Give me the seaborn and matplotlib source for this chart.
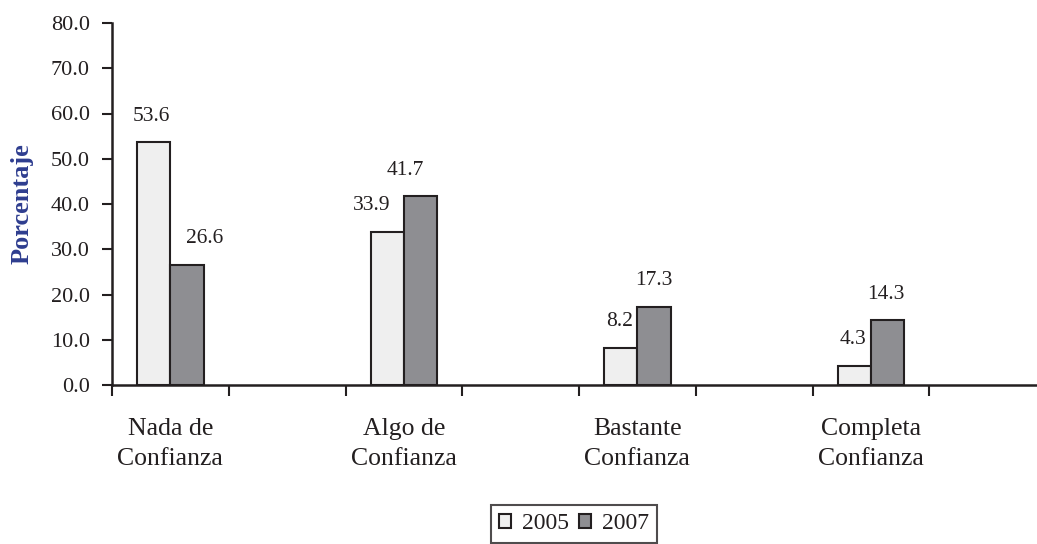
import matplotlib
matplotlib.use("Agg")
import matplotlib.pyplot as plt
from matplotlib.patches import Patch
import seaborn as sns
import pandas as pd
import numpy as np

# ---- data ----
categories = ["Nada de\nConfianza", "Algo de\nConfianza", "Bastante\nConfianza", "Completa\nConfianza"]
years = ["2005", "2007"]
values_2005 = [53.6, 33.9, 8.2, 4.3]
values_2007 = [26.6, 41.7, 17.3, 14.3]
y_ticks = [0, 10, 20, 30, 40, 50, 60, 70, 80]
y_label = "Porcentaje"

# ---- style ----
colors = {"2005": "#efefef", "2007": "#8e8e92"}
ink = "#231f20"
label_dx_px = {"2005": [-2, -16, -1, -1], "2007": [18, -15, 0, -2]}

sns.set_style("ticks")
plt.rcParams["font.family"] = ["Liberation Serif", "DejaVu Serif"]
plt.rcParams["axes.edgecolor"] = ink
plt.rcParams["text.color"] = ink
plt.rcParams["xtick.color"] = ink
plt.rcParams["ytick.color"] = ink

# Category slots: Excel-style layout with an empty slot after each category
order = []
for i, c in enumerate(categories):
    order.append(c)
    order.append("_gap%d" % i)

rows = []
for c, a, b in zip(categories, values_2005, values_2007):
    rows.append({"cat": c, "year": "2005", "val": a})
    rows.append({"cat": c, "year": "2007", "val": b})
df = pd.DataFrame(rows)

fig = plt.figure(figsize=(10.37, 5.44), dpi=100)
W, H = 1037.0, 544.0
ax = fig.add_axes([112 / W, 1 - 385 / H, (1046 - 112) / W, (385 - 23) / H])

sns.barplot(data=df, x="cat", y="val", hue="year", order=order, hue_order=years,
            palette=colors, saturation=1, width=0.57, edgecolor=ink, linewidth=1.5,
            errorbar=None, legend=False, ax=ax)

ax.set_xlim(-0.5, len(order) - 0.5)
ax.set_ylim(0, 80)
ax.set_yticks(y_ticks)
ax.set_yticklabels(["%.1f" % t for t in y_ticks], fontsize=16)
ax.tick_params(axis="y", length=7, width=1.5, pad=9, direction="out")

# major ticks at slot boundaries, labels on minor ticks at category centers
ax.set_xticks(np.arange(-0.5, len(order), 1.0))
ax.set_xticklabels([])
ax.tick_params(axis="x", which="major", length=8, width=1.5, direction="out")
cat_pos = [order.index(c) for c in categories]
ax.set_xticks(cat_pos, minor=True)
ax.set_xticklabels(categories, minor=True, fontsize=18.5, linespacing=1.45)
ax.tick_params(axis="x", which="minor", length=0, pad=24)
ax.set_xlabel("")

for s in ["top", "right"]:
    ax.spines[s].set_visible(False)
for s in ["left", "bottom"]:
    ax.spines[s].set_linewidth(1.8)
    ax.spines[s].set_color(ink)

ax.set_ylabel(y_label, fontsize=19, fontweight="bold", color="#2e3d8f")
ax.yaxis.label.set_verticalalignment("center")
ax.yaxis.set_label_coords((22 - 112) / (1046 - 112), 0.5)

# value labels
for yr, cont in zip(years, ax.containers):
    patches = sorted([p for p in cont.patches if p.get_height() > 0], key=lambda p: p.get_x())
    for p, dx in zip(patches, label_dx_px[yr]):
        xc = p.get_x() + p.get_width() / 2
        h = p.get_height()
        ax.annotate("%.1f" % h, (xc, h), xytext=(dx * 0.72, 26 * 0.72),
                    textcoords="offset points", ha="center", va="center", fontsize=15.5)

handles = [Patch(facecolor=colors[y], edgecolor=ink, linewidth=1.5) for y in years]
leg = fig.legend(handles, years, loc="upper left", bbox_to_anchor=(491 / W, 1 - 505 / H),
                 ncol=2, fontsize=17, frameon=True, fancybox=False, edgecolor=ink,
                 handlelength=0.5, handleheight=0.5, handletextpad=0.45, columnspacing=0.45,
                 borderpad=0.35, borderaxespad=0)
leg.get_frame().set_linewidth(1.5)

fig.savefig("out.png", dpi=100)
